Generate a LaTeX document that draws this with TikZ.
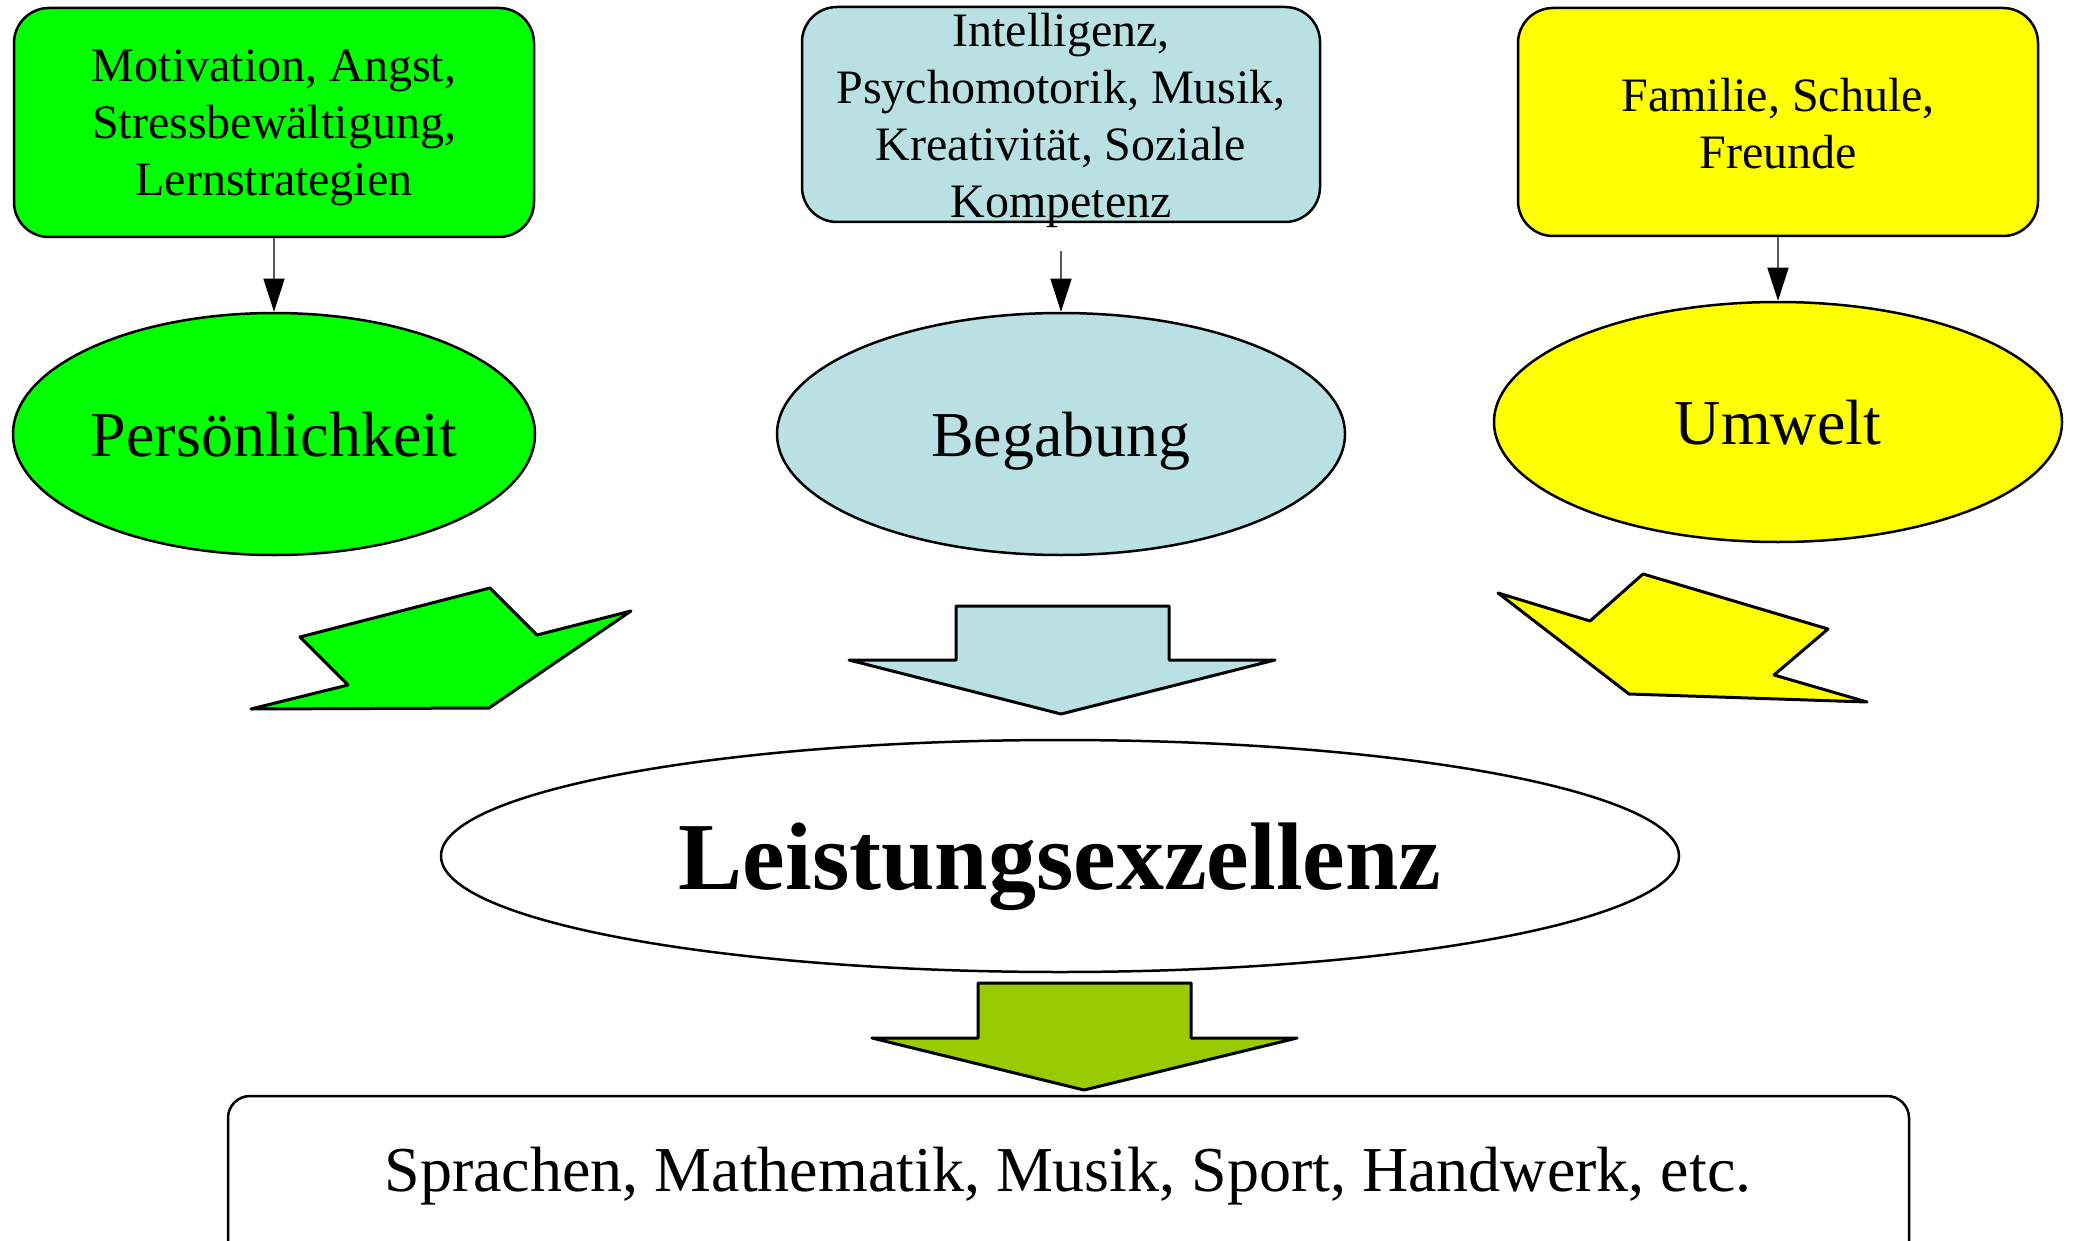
\documentclass[tikz,border=0pt]{standalone}
\usepackage{fontspec}
\setmainfont{Liberation Serif}
\usetikzlibrary{shapes.geometric,arrows.meta}
\definecolor{cgreen}{RGB}{0,255,0}
\definecolor{cblue}{RGB}{185,224,227}
\definecolor{cyellow}{RGB}{255,255,0}
\definecolor{colive}{RGB}{153,204,0}
\begin{document}
\begin{tikzpicture}[x=1pt,y=-1pt,
  topbox/.style={draw=black, line width=2.5pt, rounded corners=35pt, minimum width=520pt, inner sep=0pt},
  boxtext/.style={align=center, inner sep=0pt, font=\fontsize{48}{57}\selectfont},
  ell/.style={ellipse, draw=black, line width=2.5pt, inner sep=0pt, text depth=0pt, font=\fontsize{64}{70}\selectfont},
  conn/.style={draw=black!65, line width=1.5pt, -{Triangle[length=33pt,width=21pt,color=black]}},
  fatarrow/.style={draw=black, line width=3pt, line join=round}]
\useasboundingbox (0,0) rectangle (2074,1241);
% top boxes
\node[topbox, fill=cgreen, minimum height=229pt] (gbox) at (274,122.5) {};
\node[topbox, fill=cblue, minimum height=215pt, minimum width=518pt] (bbox) at (1061,114.5) {};
\node[topbox, fill=cyellow, minimum height=228pt] (ybox) at (1778,122) {};
\node[boxtext] (gtxt) at (274,128) {Motivation, Angst,\\Stressbewältigung,\\Lernstrategien};
\node[boxtext] (btxt) at (1061,120) {Intelligenz,\\Psychomotorik, Musik,\\Kreativität, Soziale\\Kompetenz};
\node[boxtext] (ytxt) at (1778,124) {Familie, Schule,\\Freunde};
% ellipses
\node[ell, fill=cgreen, minimum width=522pt, minimum height=242pt] (gell) at (274,434) {Persönlichkeit};
\node[ell, fill=cblue, minimum width=568pt, minimum height=242pt] (bell) at (1061,434) {Begabung};
\node[ell, fill=cyellow, minimum width=568pt, minimum height=240pt] (yell) at (1778,422) {Umwelt};
% connectors
\draw[conn] (gbox.south) -- (gell.north);
\draw[conn, shorten <=28pt] (bbox.south) -- (bell.north);
\draw[conn] (ybox.south) -- (yell.north);
% fat arrows
\draw[fatarrow, fill=cgreen] (251,709) -- (348,685) -- (300,637) -- (490,588) -- (537,635) -- (631,611) -- (489,708) -- cycle;
\draw[fatarrow, fill=cblue] (849,660) -- (956,660) -- (956,606) -- (1169,606) -- (1169,660) -- (1275,660) -- (1061,714) -- cycle;
\draw[fatarrow, fill=cyellow] (1498,593) -- (1590,621) -- (1643,574) -- (1828,629) -- (1774,675) -- (1867,702) -- (1629,694) -- cycle;
% central ellipse
\node[ellipse, draw=black, line width=2.5pt, fill=white, minimum width=1238pt, minimum height=232pt, inner sep=0pt, text depth=0pt, font=\bfseries\fontsize{96}{100}\selectfont] (lex) at (1060,856) {Leistungsexzellenz};
\draw[fatarrow, fill=colive] (872,1038) -- (978,1038) -- (978,983) -- (1191,983) -- (1191,1038) -- (1297,1038) -- (1084,1090) -- cycle;
% bottom box
\node[draw=black, line width=2.5pt, rounded corners=22pt, minimum width=1681pt, minimum height=174pt, inner sep=0pt] (bottom) at (1068.5,1183) {};
\node[inner sep=0pt, font=\fontsize{64}{70}\selectfont] (btext) at (1068,1176) {Sprachen, Mathematik, Musik, Sport, Handwerk, etc.};
\end{tikzpicture}
\end{document}
